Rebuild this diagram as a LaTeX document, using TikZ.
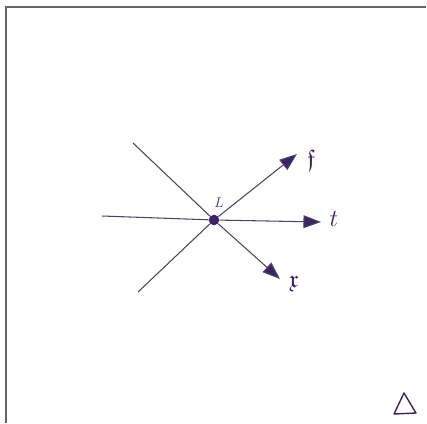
\documentclass[tikz,border=0pt]{standalone}
\usepackage{amssymb}
\usetikzlibrary{arrows.meta}
\definecolor{Inkcolor}{RGB}{62,34,104}
\definecolor{Linecolor}{RGB}{78,66,104}
\begin{document}
\begin{tikzpicture}[
  x=0.03cm, y=-0.03cm,
  frm/.style={draw=gray!80!black, line width=1.6pt},
  ray/.style={draw=Linecolor, line width=0.9pt},
  arr/.style={ray, -{Triangle[length=15pt, width=11pt, fill=Inkcolor]}},
  lbl/.style={text=Inkcolor, font=\huge, inner sep=1pt},
  hub/.style={circle, fill=Inkcolor, inner sep=0pt, minimum size=9pt}
]
\useasboundingbox (0,0) rectangle (427,423);
% frame
\draw[frm] (6,423) -- (6,7) -- (426,7);

\node[hub] (L) at (214,220) {};
\node[text=Inkcolor, font=\large, inner sep=0pt] (Llbl) at (219,203) {$L$};

\coordinate (sx) at (133,143);
\coordinate (st) at (102,216);
\coordinate (sf) at (138,292);
\coordinate (tx) at (280,279);
\coordinate (tt) at (321,222);
\coordinate (tf) at (297,154);

\node[lbl] (x) at (294,284) {$\mathfrak{x}$};
\node[lbl] (t) at (334,219) {$t$};
\node[lbl] (f) at (311,160) {$\mathfrak{f}$};

\draw[ray] (sx) -- (L);
\draw[ray] (st) -- (L);
\draw[ray] (sf) -- (L);
\draw[arr] (L) -- (tx);
\draw[arr] (L) -- (tt);
\draw[arr] (L) -- (tf);

% triangle mark
\draw[draw=Inkcolor, line width=1.2pt, line join=round] (404,393) -- (394,414) -- (416,413) -- cycle;
\end{tikzpicture}
\end{document}
